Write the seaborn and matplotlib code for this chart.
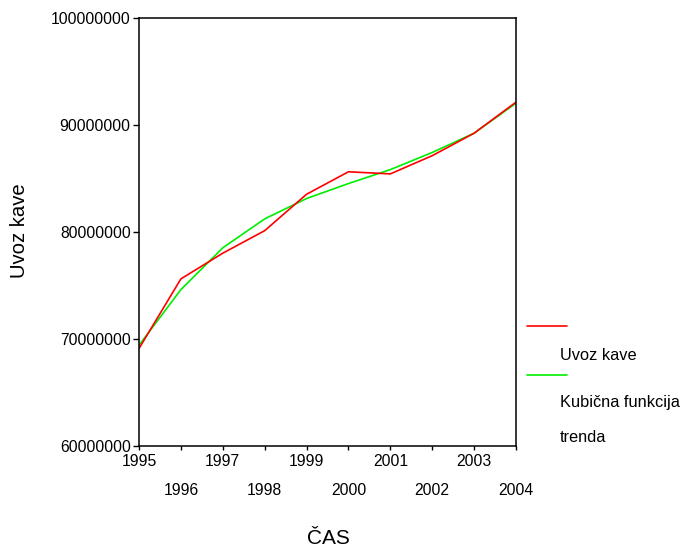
import matplotlib
matplotlib.use("Agg")
import matplotlib.pyplot as plt
import seaborn as sns
import pandas as pd
from matplotlib.lines import Line2D
from matplotlib.ticker import FixedLocator, FixedFormatter

years = [1995, 1996, 1997, 1998, 1999, 2000, 2001, 2002, 2003, 2004]
uvoz_kave = [69.1e6, 75.6e6, 78.0e6, 80.1e6, 83.5e6, 85.6e6, 85.4e6, 87.1e6, 89.2e6, 92.1e6]
kubicna = [69.4e6, 74.6e6, 78.5e6, 81.2e6, 83.1e6, 84.5e6, 85.8e6, 87.4e6, 89.2e6, 92.0e6]
series_names = ["Uvoz kave", "Kubična funkcija trenda"]
y_ticks = [60000000, 70000000, 80000000, 90000000, 100000000]

sns.set_theme(style="white")
plt.rcParams['font.family'] = ['Liberation Sans', 'DejaVu Sans']
plt.rcParams['text.color'] = 'black'
plt.rcParams['axes.labelcolor'] = 'black'

df = pd.DataFrame({
    "year": years * 2,
    "value": uvoz_kave + kubicna,
    "series": [series_names[0]] * len(years) + [series_names[1]] * len(years),
})

fig = plt.figure(figsize=(6.82, 5.48), dpi=100)
ax = fig.add_axes([139 / 682, 1 - 446 / 548, (516 - 139) / 682, (446 - 17.5) / 548])

colors = {series_names[0]: "#ff0000", series_names[1]: "#00ee00"}
sns.lineplot(data=df, x="year", y="value", hue="series", palette=colors,
             hue_order=[series_names[1], series_names[0]],
             linewidth=1.2, legend=False, ax=ax)

ax.set_xlim(years[0], years[-1])
ax.set_ylim(y_ticks[0], y_ticks[-1])
ax.set_yticks(y_ticks)
ax.set_yticklabels([str(v) for v in y_ticks])

major = years[0::2]
minor = years[1::2]
ax.xaxis.set_major_locator(FixedLocator(major))
ax.xaxis.set_major_formatter(FixedFormatter([str(y) for y in major]))
ax.xaxis.set_minor_locator(FixedLocator(minor))
ax.xaxis.set_minor_formatter(FixedFormatter([str(y) for y in minor]))

for s in ax.spines.values():
    s.set_visible(True)
    s.set_color("black")
    s.set_linewidth(1.1)

ax.tick_params(axis="x", which="major", direction="out", length=3, width=1, pad=3,
               labelsize=11.3, bottom=True, colors="black", labelcolor="black")
ax.tick_params(axis="x", which="minor", direction="out", length=3, width=1, pad=23.5,
               labelsize=11.3, bottom=True, colors="black", labelcolor="black")
ax.tick_params(axis="y", direction="out", length=4, width=1, pad=2,
               labelsize=11.3, left=True, colors="black", labelcolor="black")

ax.set_xlabel("")
ax.set_ylabel("")
fig.text(20 / 682, 1 - 231 / 548, "Uvoz kave", rotation=90, ha="center", va="center",
         fontsize=14.6, color="black")
fig.text(328 / 682, 1 - 538 / 548, "ČAS", ha="center", va="center", fontsize=15, color="black")

# legend (SPSS style: handle above label)
fig.add_artist(Line2D([527 / 682, 567 / 682], [1 - 326 / 548] * 2, color="#ff0000", lw=1.2,
                      transform=fig.transFigure))
fig.add_artist(Line2D([527 / 682, 567 / 682], [1 - 375 / 548] * 2, color="#00ee00", lw=1.2,
                      transform=fig.transFigure))
fig.text(560 / 682, 1 - 356 / 548, "Uvoz kave", ha="left", va="center", fontsize=11.8, color="black")
fig.text(560 / 682, 1 - 403 / 548, "Kubična funkcija", ha="left", va="center", fontsize=11.8, color="black")
fig.text(560 / 682, 1 - 437 / 548, "trenda", ha="left", va="center", fontsize=11.8, color="black")

fig.savefig("out.png", dpi=100, facecolor="white")
